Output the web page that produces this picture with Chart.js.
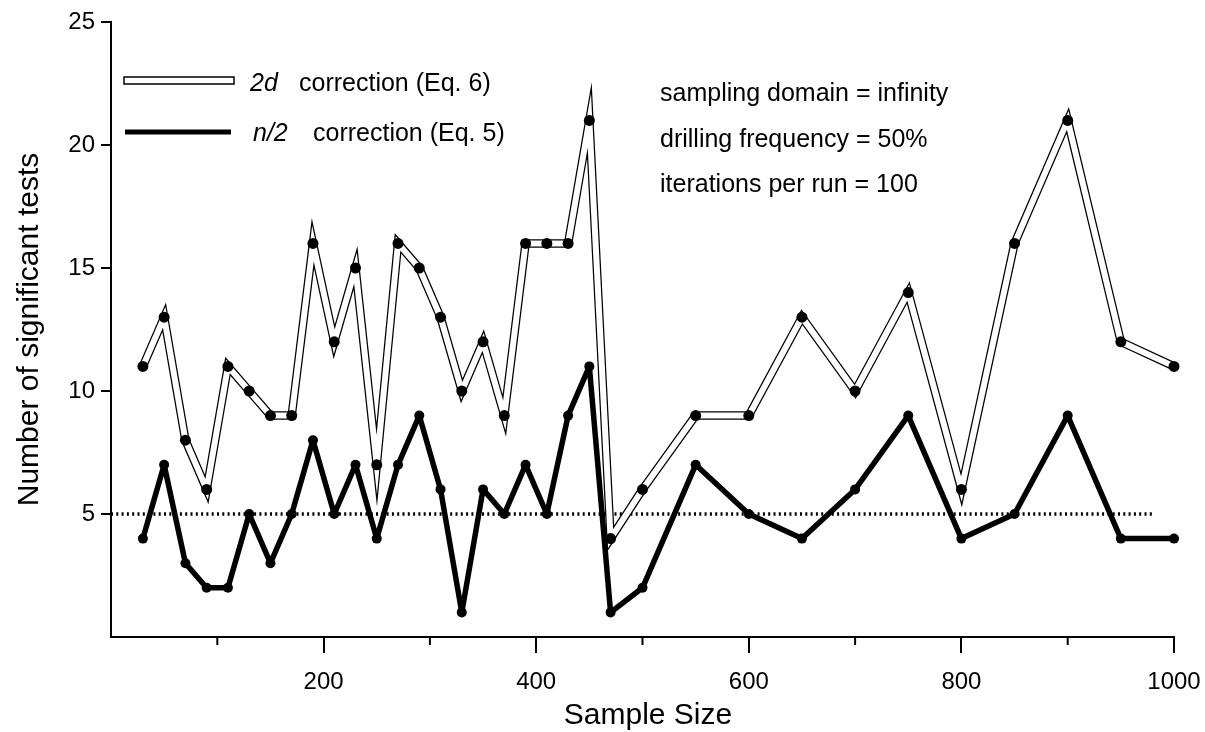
<!DOCTYPE html>
<html>
<head>
<meta charset="utf-8">
<script src="https://cdn.jsdelivr.net/npm/chart.js@4.4.1/dist/chart.umd.min.js"></script>
<style>
  html, body { margin: 0; padding: 0; background: #fff; }
  #wrap { width: 1205px; height: 732px; }
</style>
</head>
<body>
<div id="wrap"><canvas id="c" width="1205" height="732"></canvas></div>
<script>
// ---- data ----
const sampleSizes = [30,50,70,90,110,130,150,170,190,210,230,250,270,290,310,330,350,370,390,410,430,450,470,500,550,600,650,700,750,800,850,900,950,1000];
const corr2d = [11,13,8,6,11,10,9,9,16,12,15,7,16,15,13,10,12,9,16,16,16,21,4,6,9,9,13,10,14,6,16,21,12,11];
const corrN2 = [4,7,3,2,2,5,3,5,8,5,7,4,7,9,6,1,6,5,7,5,9,11,1,2,7,5,4,6,9,4,5,9,4,4];
const refLineX = [0, 980];
const refLineY = [5, 5];
const xMajorTicks = [200, 400, 600, 800, 1000];
const xMinorTicks = [100, 300, 500, 700, 900];
const yTicks = [5, 10, 15, 20, 25];

const FONT = "'Liberation Sans', Arial, Helvetica, sans-serif";

const pts = (xs, ys) => xs.map((x, i) => ({ x: x, y: ys[i] }));

const decor = {
  id: 'decor',
  afterDraw(chart) {
    const ctx = chart.ctx;
    const xs = chart.scales.x;
    const area = chart.chartArea;
    ctx.save();
    // minor x ticks
    ctx.strokeStyle = '#000';
    ctx.lineWidth = 2;
    xMinorTicks.forEach(v => {
      const px = xs.getPixelForValue(v);
      ctx.beginPath();
      ctx.moveTo(px, area.bottom);
      ctx.lineTo(px, area.bottom + 8);
      ctx.stroke();
    });
    // axis titles
    ctx.fillStyle = '#000';
    ctx.font = '30px ' + FONT;
    ctx.textAlign = 'center';
    ctx.textBaseline = 'alphabetic';
    ctx.fillText('Sample Size', 648, 724);
    ctx.save();
    ctx.translate(38, (area.top + area.bottom) / 2);
    ctx.rotate(-Math.PI / 2);
    ctx.fillText('Number of significant tests', 0, 0);
    ctx.restore();

    // legend
    ctx.textAlign = 'left';
    ctx.fillStyle = '#fff';
    ctx.strokeStyle = '#000';
    ctx.lineWidth = 1.5;
    ctx.fillRect(124, 77, 110, 7);
    ctx.strokeRect(124, 77, 110, 7);
    ctx.beginPath();
    ctx.lineWidth = 5;
    ctx.moveTo(125, 132);
    ctx.lineTo(231, 132);
    ctx.stroke();
    ctx.fillStyle = '#000';
    ctx.font = 'italic 25px ' + FONT;
    ctx.fillText('2d', 250, 91);
    ctx.fillText('n/2', 253, 141);
    ctx.font = '25px ' + FONT;
    ctx.fillText('correction (Eq. 6)', 299, 91);
    ctx.fillText('correction (Eq. 5)', 313, 141);

    // annotations
    ctx.fillText('sampling domain = infinity', 660, 101);
    ctx.fillText('drilling frequency = 50%', 660, 147);
    ctx.fillText('iterations per run = 100', 660, 192);
    ctx.restore();
  }
};

new Chart(document.getElementById('c'), {
  type: 'line',
  data: {
    datasets: [
      {
        label: 'reference',
        data: pts(refLineX, refLineY),
        borderColor: '#000',
        borderWidth: 3.5,
        borderDash: [2, 3.3],
        pointRadius: 0,
        clip: false,
        order: 5
      },
      {
        label: 'n/2 correction (Eq. 5)',
        data: pts(sampleSizes, corrN2),
        borderColor: '#000',
        backgroundColor: '#000',
        borderWidth: 5.5,
        borderJoinStyle: 'round',
        pointRadius: 5,
        pointBorderWidth: 0,
        pointBackgroundColor: '#000',
        clip: false,
        order: 4
      },
      {
        label: '2d outer',
        data: pts(sampleSizes, corr2d),
        borderColor: '#000',
        borderWidth: 8.5,
        pointRadius: 0,
        clip: false,
        order: 3
      },
      {
        label: '2d inner',
        data: pts(sampleSizes, corr2d),
        borderColor: '#fff',
        borderWidth: 6,
        pointRadius: 0,
        clip: false,
        order: 2
      },
      {
        label: '2d correction (Eq. 6)',
        data: pts(sampleSizes, corr2d),
        borderColor: 'rgba(0,0,0,0)',
        borderWidth: 0,
        showLine: false,
        pointRadius: 5.5,
        pointBorderWidth: 0,
        pointBackgroundColor: '#000',
        clip: false,
        order: 1
      }
    ]
  },
  options: {
    responsive: false,
    animation: false,
    layout: { padding: { left: 0, right: 31, top: 22, bottom: 0 } },
    plugins: { legend: { display: false }, tooltip: { enabled: false } },
    elements: { line: { tension: 0, borderJoinStyle: 'miter', borderCapStyle: 'butt' } },
    scales: {
      x: {
        type: 'linear',
        min: 0, max: 1000,
        afterBuildTicks: s => { s.ticks = xMajorTicks.map(v => ({ value: v })); },
        afterFit: s => { s.height = 95; s.paddingRight = 0; s.paddingLeft = 0; },
        ticks: {
          color: '#000',
          font: { family: FONT, size: 24 },
          padding: 15,
          maxRotation: 0,
          autoSkip: false,
          callback: v => String(v)
        },
        grid: { drawOnChartArea: false, drawTicks: true, tickLength: 16, color: '#000', lineWidth: 2 },
        border: { display: true, color: '#000', width: 2 }
      },
      y: {
        type: 'linear',
        min: 0, max: 25,
        afterBuildTicks: s => { s.ticks = yTicks.map(v => ({ value: v })); },
        afterFit: s => { s.width = 111; s.paddingTop = 0; s.paddingBottom = 0; },
        ticks: {
          color: '#000',
          font: { family: FONT, size: 24 },
          padding: 6,
          autoSkip: false,
          callback: v => String(v)
        },
        grid: { drawOnChartArea: false, drawTicks: true, tickLength: 10, color: '#000', lineWidth: 2 },
        border: { display: true, color: '#000', width: 2 }
      }
    }
  },
  plugins: [decor]
});
</script>
</body>
</html>
